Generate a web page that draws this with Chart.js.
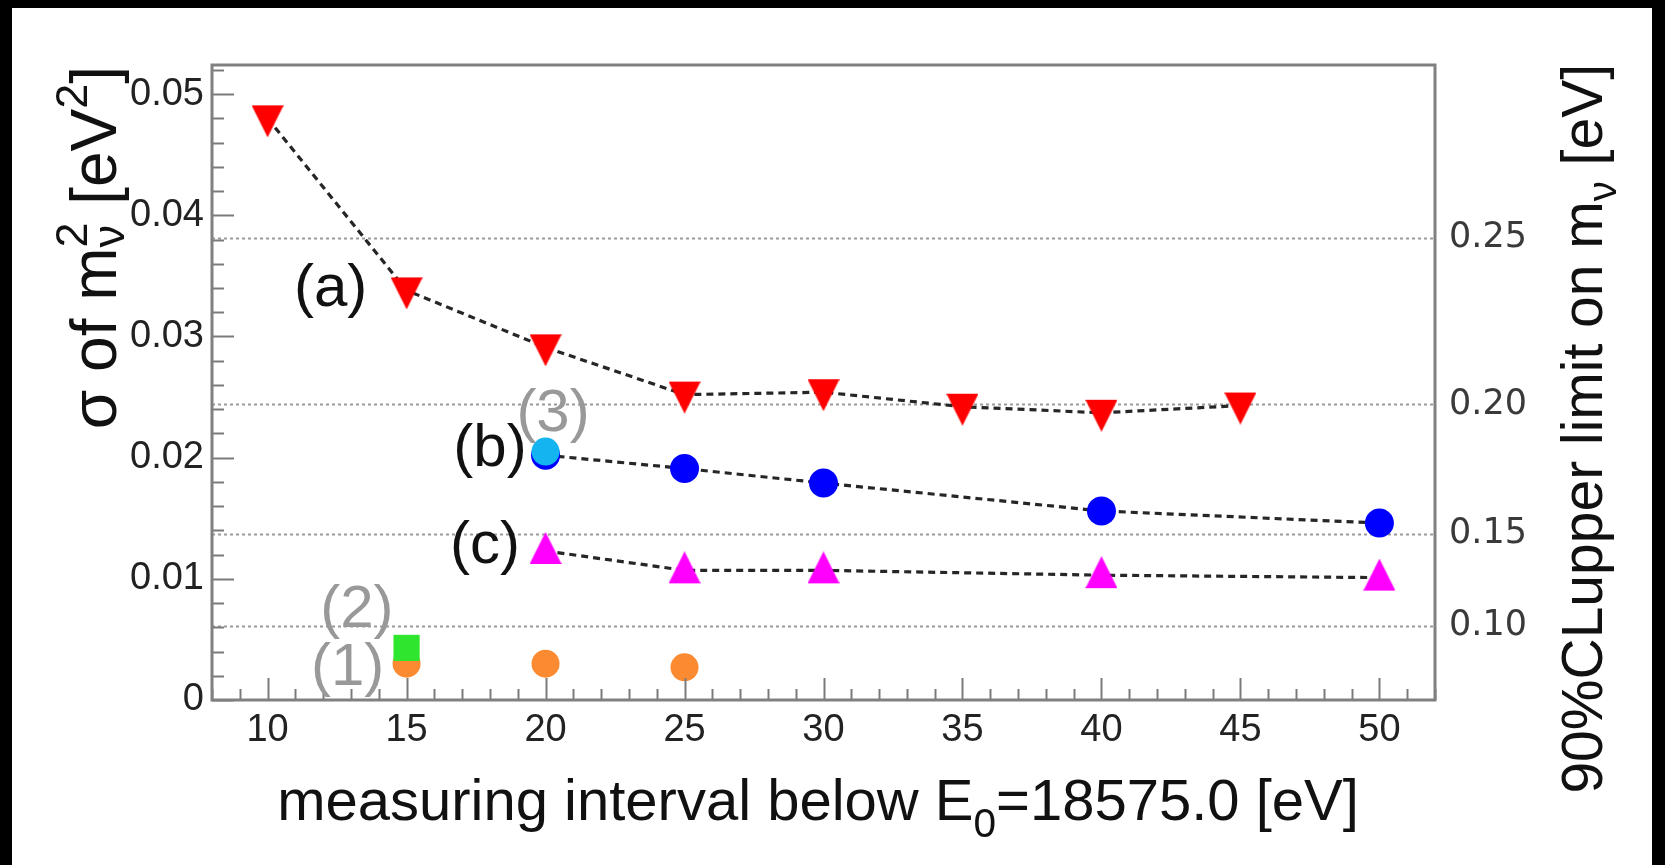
<!DOCTYPE html>
<html lang="en">
<head>
<meta charset="UTF-8">
<title>sigma of m_nu^2 vs measuring interval</title>
<script src="https://cdn.jsdelivr.net/npm/chart.js"></script>
<style>
  html, body { margin: 0; padding: 0; background: #fff; }
  #wrap { width: 1665px; height: 865px; }
  canvas { display: block; }
</style>
</head>
<body>
<div id="wrap"><canvas id="chart" width="1665" height="865"></canvas></div>
<script>
// ---- data ----
const xTicks = [10, 15, 20, 25, 30, 35, 40, 45, 50];
const yTicks = [0, 0.01, 0.02, 0.03, 0.04, 0.05];
const limitTicks = [0.10, 0.15, 0.20, 0.25];   // right axis, m_nu upper limit [eV]
const CL90 = 1.64;                              // sigma = m^2 / 1.64

const aX = [10, 15, 20, 25, 30, 35, 40, 45];
const aY = [0.0480, 0.0338, 0.0291, 0.0252, 0.0254, 0.0242, 0.0237, 0.0243];
const bX = [20, 25, 30, 40, 50];
const bY = [0.0202, 0.0191, 0.0179, 0.0156, 0.0146];
const cX = [20, 25, 30, 40, 50];
const cY = [0.0123, 0.0107, 0.0107, 0.0103, 0.0101];
const s1X = [15, 20, 25];
const s1Y = [0.0030, 0.0030, 0.0027];
const s2X = [15];
const s2Y = [0.0043];
const s3X = [20];
const s3Y = [0.0205];

const noteText = ['(a)', '(b)', '(c)', '(1)', '(2)', '(3)'];
const noteX = [12.27, 18.0, 17.82, 12.88, 13.21, 20.27];
const noteY = [0.0339, 0.0207, 0.0127, 0.0026, 0.0074, 0.0236];

const FONT = "'Liberation Sans', Arial, Helvetica, sans-serif";
const noteColor = { '(a)': '#111', '(b)': '#111', '(c)': '#111', '(1)': '#999', '(2)': '#999', '(3)': '#999' };

const pts = (xs, ys) => xs.map((x, i) => ({ x: x, y: ys[i] }));

// ROOT-like triangles (narrower than the built-in equilateral one)
function triangle(color, up) {
    const c = document.createElement('canvas');
    c.width = 32; c.height = 38;
    const g = c.getContext('2d');
    g.fillStyle = color;
    g.beginPath();
    if (up) { g.moveTo(16, 0); g.lineTo(32, 32); g.lineTo(0, 32); }
    else { g.moveTo(0, 6); g.lineTo(32, 6); g.lineTo(16, 38); }
    g.closePath();
    g.fill();
    return c;
}

function richLayout(ctx, parts, size, subDy, supDy) {
    let x = 0;
    const items = [];
    parts.forEach(p => {
        if (p.t !== undefined) {
            ctx.font = size + 'px ' + FONT;
            items.push({ t: p.t, x: x, dy: 0, s: size });
            x += ctx.measureText(p.t).width;
        } else {
            const s = size * 0.7;
            ctx.font = s + 'px ' + FONT;
            let w = 0;
            if (p.sub) { items.push({ t: p.sub, x: x, dy: size * subDy, s: s }); w = Math.max(w, ctx.measureText(p.sub).width); }
            if (p.sup) { items.push({ t: p.sup, x: x, dy: -size * supDy, s: s }); w = Math.max(w, ctx.measureText(p.sup).width); }
            x += w;
        }
    });
    return { items: items, width: x };
}

function drawRich(ctx, lay, x0) {
    lay.items.forEach(it => {
        ctx.font = it.s + 'px ' + FONT;
        ctx.fillText(it.t, x0 + it.x, it.dy);
    });
}

const decor = {
    id: 'decor',
    beforeDraw(chart) {
        const ctx = chart.ctx;
        ctx.save();
        ctx.fillStyle = '#fff';
        ctx.fillRect(0, 0, 1665, 865);
        ctx.fillStyle = '#000';
        ctx.fillRect(0, 0, 1665, 8);
        ctx.fillRect(0, 0, 12, 865);
        ctx.fillRect(1652, 0, 13, 865);
        ctx.restore();
    },
    beforeDatasetsDraw(chart) {
        const ctx = chart.ctx, a = chart.chartArea, y2 = chart.scales.y2;
        ctx.save();
        ctx.strokeStyle = '#9a9a9a';
        ctx.lineWidth = 2;
        ctx.setLineDash([3, 3]);
        limitTicks.forEach(m => {
            const py = Math.round(y2.getPixelForValue(m * m / CL90)) + 0.5;
            ctx.beginPath();
            ctx.moveTo(a.left, py);
            ctx.lineTo(a.right, py);
            ctx.stroke();
        });
        ctx.restore();
    },
    afterDatasetsDraw(chart) {
        const ctx = chart.ctx, a = chart.chartArea;
        const xs = chart.scales.x, ys = chart.scales.y;
        ctx.save();
        // inner ticks
        ctx.strokeStyle = '#7a7a7a';
        ctx.lineWidth = 2;
        for (let v = 8; v <= 52; v++) {
            const px = Math.round(xs.getPixelForValue(v)) + 0.5;
            const len = v % 5 === 0 ? 22 : 11;
            ctx.beginPath();
            ctx.moveTo(px, a.bottom);
            ctx.lineTo(px, a.bottom - len);
            ctx.stroke();
        }
        for (let k = 0; k <= 26; k++) {
            const py = Math.round(ys.getPixelForValue(k * 0.002)) + 0.5;
            const len = k % 5 === 0 ? 22 : 12;
            ctx.beginPath();
            ctx.moveTo(a.left, py);
            ctx.lineTo(a.left + len, py);
            ctx.stroke();
        }
        // frame
        ctx.strokeStyle = '#808080';
        ctx.lineWidth = 3;
        ctx.strokeRect(a.left, a.top, a.right - a.left, a.bottom - a.top);

        // series notes
        ctx.textAlign = 'center';
        ctx.textBaseline = 'middle';
        ctx.font = '60px ' + FONT;
        noteText.forEach((t, i) => {
            ctx.fillStyle = noteColor[t];
            ctx.fillText(t, xs.getPixelForValue(noteX[i]), ys.getPixelForValue(noteY[i]));
        });
        ctx.restore();
    },
    afterDraw(chart) {
        const ctx = chart.ctx, a = chart.chartArea;
        ctx.save();
        ctx.fillStyle = '#111';
        ctx.textAlign = 'left';
        ctx.textBaseline = 'alphabetic';

        // left title, reading upwards, ends at the top of the frame
        const leftLay = richLayout(ctx, [{ t: 'σ of m' }, { sub: 'ν', sup: '2' }, { t: ' [eV' }, { sup: '2' }, { t: ']' }], 64, 0.12, 0.45);
        ctx.save();
        ctx.translate(116, a.top + 1);
        ctx.rotate(-Math.PI / 2);
        drawRich(ctx, leftLay, -leftLay.width);
        ctx.restore();

        // right title
        const rightLay = richLayout(ctx, [{ t: '90%CLupper limit on m' }, { sub: 'ν' }, { t: ' [eV]' }], 57, 0.25, 0.45);
        ctx.save();
        ctx.translate(1602, a.top - 1);
        ctx.rotate(-Math.PI / 2);
        drawRich(ctx, rightLay, -rightLay.width);
        ctx.restore();

        // x title
        const xLay = richLayout(ctx, [{ t: 'measuring interval below E' }, { sub: '0' }, { t: '=18575.0 [eV]' }], 58, 0.3, 0.45);
        ctx.save();
        ctx.translate(818, 820);
        drawRich(ctx, xLay, -xLay.width / 2);
        ctx.restore();
        ctx.restore();
    }
};

const lineStyle = { showLine: true, borderColor: '#262626', borderWidth: 3.2, borderDash: [7, 5], tension: 0 };

new Chart(document.getElementById('chart'), {
    type: 'line',
    data: {
        datasets: [
            Object.assign({ label: '(a)', data: pts(aX, aY), pointStyle: triangle('#ff0000', false), pointRadius: 16, order: 5 }, lineStyle),
            Object.assign({ label: '(b)', data: pts(bX, bY), pointStyle: 'circle', pointRadius: 14.5,
                pointBackgroundColor: '#0000ff', pointBorderColor: '#0000ff', pointBorderWidth: 0, order: 4 }, lineStyle),
            Object.assign({ label: '(c)', data: pts(cX, cY), pointStyle: triangle('#ff00ff', true), pointRadius: 16, order: 3 }, lineStyle),
            { label: '(1)', data: pts(s1X, s1Y), showLine: false, pointStyle: 'circle', pointRadius: 14,
              pointBackgroundColor: '#fb8a30', pointBorderColor: '#fb8a30', pointBorderWidth: 0, order: 2 },
            { label: '(2)', data: pts(s2X, s2Y), showLine: false, pointStyle: 'rect', pointRadius: 18.5,
              pointBackgroundColor: '#2ee62e', pointBorderColor: '#2ee62e', pointBorderWidth: 0, order: 1 },
            { label: '(3)', data: pts(s3X, s3Y), showLine: false, pointStyle: 'circle', pointRadius: 14,
              pointBackgroundColor: '#14b4f0', pointBorderColor: '#14b4f0', pointBorderWidth: 0, order: 0 }
        ]
    },
    options: {
        responsive: false,
        devicePixelRatio: 1,
        animation: false,
        layout: { padding: { top: 65, left: 0, right: 0, bottom: 0 } },
        plugins: { legend: { display: false }, tooltip: { enabled: false } },
        scales: {
            x: {
                type: 'linear', min: 8, max: 52,
                grid: { display: false, drawTicks: false },
                border: { display: false },
                afterBuildTicks: s => { s.ticks = xTicks.map(v => ({ value: v })); },
                afterFit: s => { s.height = 165; },
                ticks: { autoSkip: false, maxRotation: 0, padding: 8, color: '#222', font: { family: FONT, size: 38 } }
            },
            y: {
                position: 'left', min: 0, max: 0.0524,
                grid: { display: false, drawTicks: false },
                border: { display: false },
                afterBuildTicks: s => { s.ticks = yTicks.map(v => ({ value: v })); },
                afterFit: s => { s.width = 212; },
                ticks: { autoSkip: false, padding: 8, color: '#222', font: { family: FONT, size: 38 },
                    callback: v => v === 0 ? '0' : v.toFixed(2) }
            },
            y2: {
                position: 'right', min: 0, max: 0.0524,
                grid: { display: false, drawTicks: false },
                border: { display: false },
                afterBuildTicks: s => { s.ticks = limitTicks.map(m => ({ value: m * m / CL90 })); },
                afterFit: s => { s.width = 230; },
                ticks: { autoSkip: false, padding: 14, color: '#3a3a3a', font: { family: "'DejaVu Sans', sans-serif", size: 35 },
                    callback: (v, i) => limitTicks[i].toFixed(2) }
            }
        }
    },
    plugins: [decor]
});
</script>
</body>
</html>
